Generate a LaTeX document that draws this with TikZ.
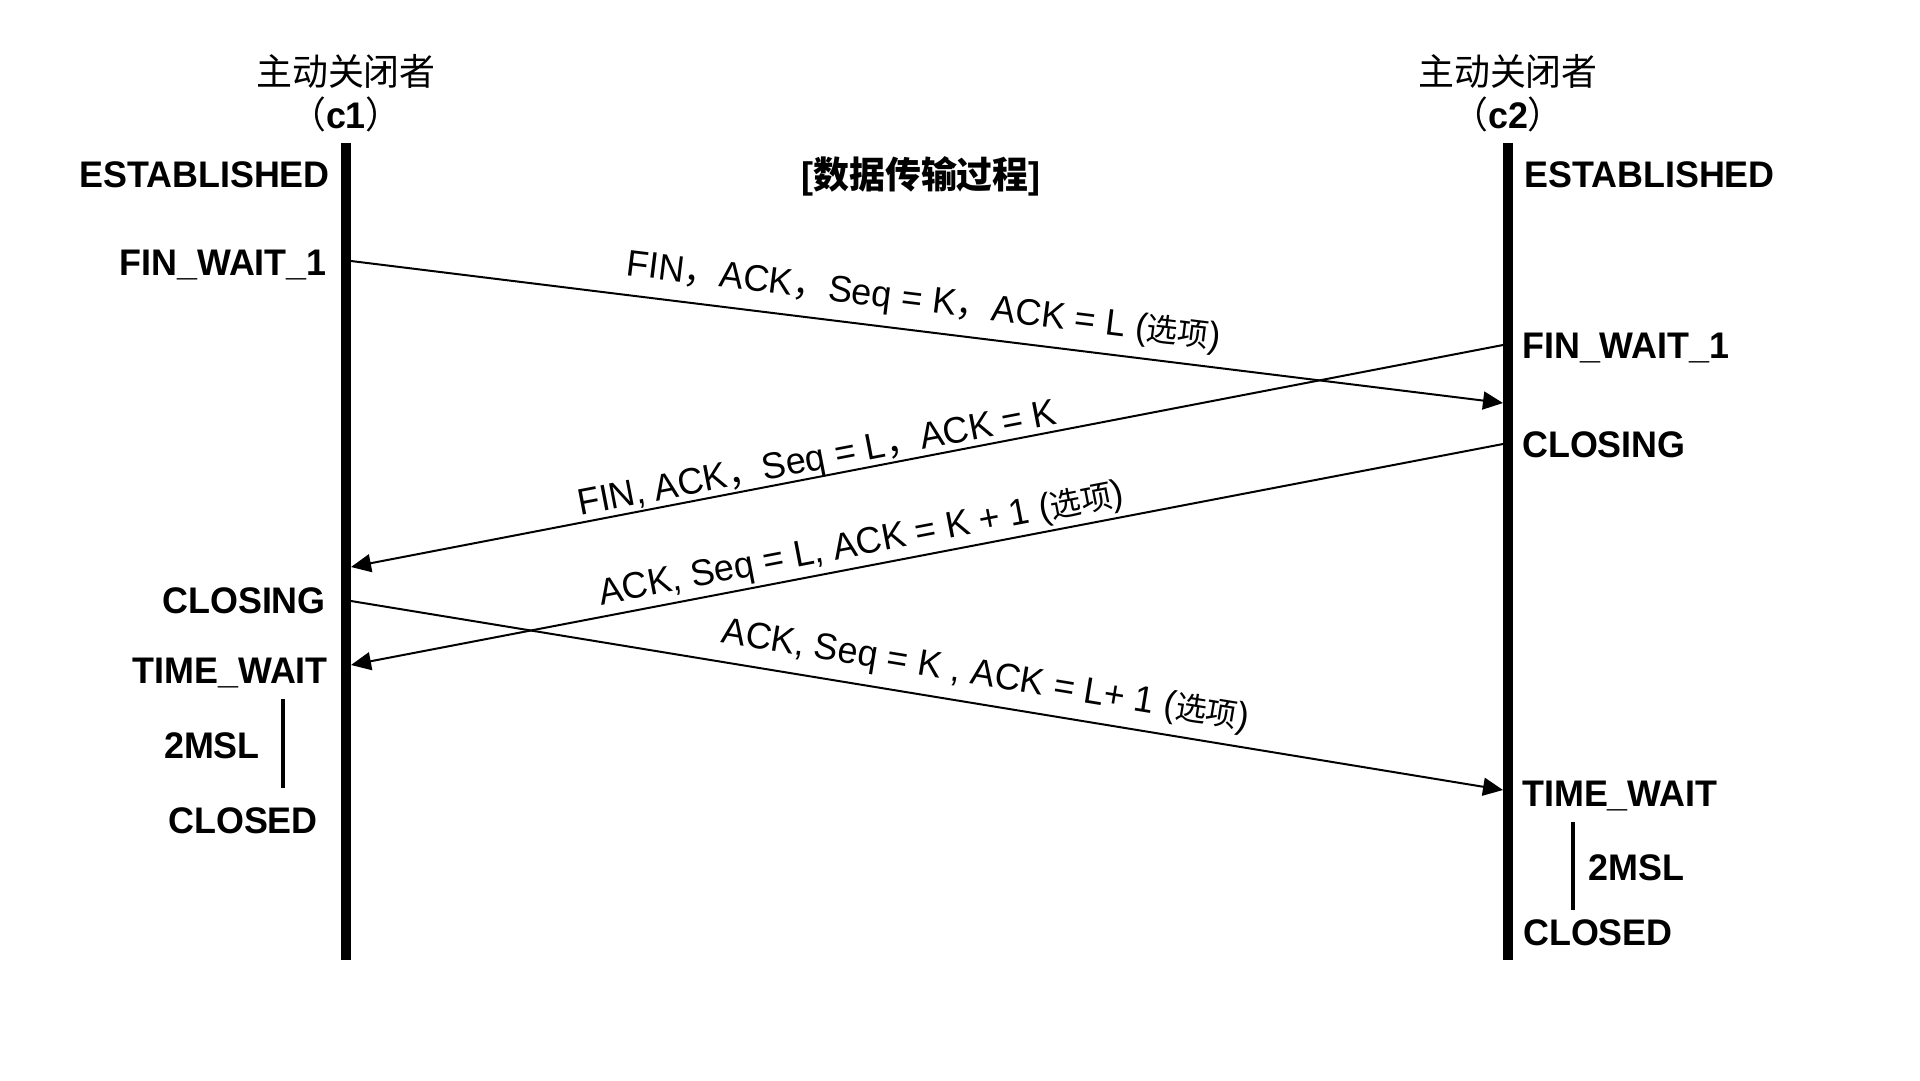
\documentclass[tikz,border=0pt]{standalone}
\usepackage{fontspec}
\setmainfont[FakeStretch=0.97]{Liberation Sans}
\newfontfamily\cjk[FakeStretch=0.97]{Noto Sans CJK SC}
\usetikzlibrary{arrows.meta}
\begin{document}
\begin{tikzpicture}[x=1pt,y=-1pt,
  state/.style={font=\fontsize{37}{44}\selectfont\bfseries, inner sep=0pt},
  hdr/.style={font=\fontsize{37}{44}\selectfont\cjk, inner sep=0pt, anchor=base},
  lbl/.style={font=\fontsize{37}{44}\selectfont, inner sep=0pt, text height=26pt, text depth=0pt},
  bar/.style={line width=10pt},
  msg/.style={line width=2pt, -{Triangle[length=20pt,width=18pt]}},
  tick/.style={line width=3.5pt}]
\fill[white] (0,0) rectangle (1920,1080);
\useasboundingbox (0,0) rectangle (1920,1080);

% lifelines
\coordinate (c1top) at (346,143); \coordinate (c1bot) at (346,960);
\coordinate (c2top) at (1508,143); \coordinate (c2bot) at (1508,960);
\draw[bar] (c1top) -- (c1bot);
\draw[bar] (c2top) -- (c2bot);

% headers
\node[hdr] (h1a) at (346,85) {主动关闭者};
\node[hdr] (h1b) at (346,128) {（{\rmfamily\bfseries c1}）};
\node[hdr] (h2a) at (1508,85) {主动关闭者};
\node[hdr] (h2b) at (1508,128) {（{\rmfamily\bfseries c2}）};
\node[state, anchor=base] (mid) at (921,188) {[{\cjk\bfseries 数据传输过程}]};

% left states
\node[state, anchor=base east] (l1) at (330,187) {ESTABLISHED};
\node[state, anchor=base east] (l2) at (327,275) {FIN\_WAIT\_1};
\node[state, anchor=base east] (l3) at (326,613) {CLOSING};
\node[state, anchor=base east] (l4) at (328,683) {TIME\_WAIT};
\node[state, anchor=base east] (l5) at (260,758) {2MSL};
\node[state, anchor=base east] (l6) at (318,833) {CLOSED};
\coordinate (lt1) at (283,699); \coordinate (lt2) at (283,788);
\draw[tick] (lt1) -- (lt2);

% right states
\node[state, anchor=base west] (r1) at (1524,187) {ESTABLISHED};
\node[state, anchor=base west] (r2) at (1522,358) {FIN\_WAIT\_1};
\node[state, anchor=base west] (r3) at (1522,457) {CLOSING};
\node[state, anchor=base west] (r4) at (1522,806) {TIME\_WAIT};
\node[state, anchor=base west] (r5) at (1588,880) {2MSL};
\node[state, anchor=base west] (r6) at (1523,945) {CLOSED};
\coordinate (rt1) at (1573,822); \coordinate (rt2) at (1573,910);
\draw[tick] (rt1) -- (rt2);

% messages
\coordinate (m1s) at (351,261);  \coordinate (m1e) at (1503,403);
\coordinate (m2s) at (1503,345); \coordinate (m2e) at (351,567);
\coordinate (m3s) at (1503,444); \coordinate (m3e) at (351,665);
\coordinate (m4s) at (351,601);  \coordinate (m4e) at (1503,790);
\draw[msg] (m1s) -- (m1e);
\draw[msg] (m2s) -- (m2e);
\draw[msg] (m3s) -- (m3e);
\draw[msg] (m4s) -- (m4e);

\node[lbl, rotate=-7.03] (t1) at (924,299) {FIN{\cjk ，}ACK{\cjk ，}Seq = K{\cjk ，}ACK = L ({\cjk\fontsize{32}{40}\selectfont 选项})};
\node[lbl, rotate=10.91] (t2) at (817,457) {FIN, ACK{\cjk ，}Seq = L{\cjk ，}ACK = K};
\node[lbl, rotate=10.86] (t3) at (861,542) {ACK, Seq = L, ACK = K + 1 ({\cjk\fontsize{32}{40}\selectfont 选项})};
\node[lbl, rotate=-9.32] (t4) at (986,673) {ACK, Seq = K , ACK = L+ 1 ({\cjk\fontsize{32}{40}\selectfont 选项})};
\end{tikzpicture}
\end{document}
